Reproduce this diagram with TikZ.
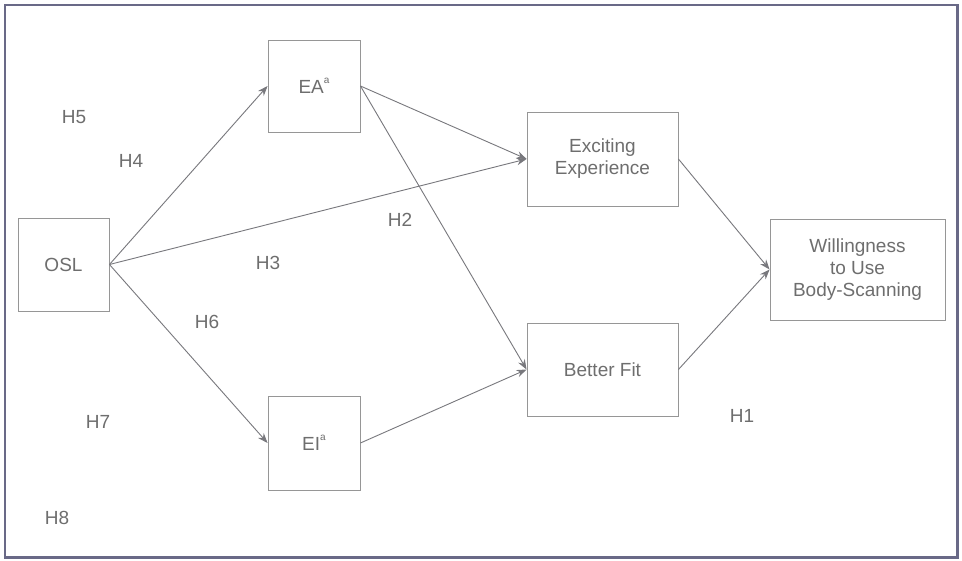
\documentclass[tikz,border=0pt]{standalone}
\usepackage{fontspec}
\setmainfont{Liberation Sans}
\definecolor{frmblue}{RGB}{105,105,135}
\definecolor{boxgray}{RGB}{150,150,150}
\definecolor{txtgray}{RGB}{110,110,110}
\definecolor{arrgray}{RGB}{120,120,125}
\usetikzlibrary{arrows.meta}
\newcommand{\supa}{\raisebox{0.55em}{\fontsize{10}{10}\selectfont a}}
\tikzset{
  fbox/.style={draw=boxgray,line width=0.9pt,text=txtgray,align=center,
    inner sep=0pt,font=\fontsize{19}{22}\selectfont},
  hyp/.style={text=txtgray,inner sep=0pt,font=\fontsize{19}{22}\selectfont},
  link/.style={draw=arrgray,line width=0.9pt,-{Stealth[length=10pt,width=7.5pt]}}
}

\begin{document}
\begin{tikzpicture}[x=1pt,y=-1pt]
  \useasboundingbox (0,0) rectangle (962,561);
  \fill[white] (0,0) rectangle (962,561);
  \draw[frmblue,line width=2.4pt] (5,5) rectangle (957.5,557.5);
  \node[fbox,minimum width=91pt,minimum height=93pt] (osl) at (63.5,264.5) {OSL};
  \node[fbox,minimum width=92pt,minimum height=92pt] (ea) at (314,86) {EA\supa};
  \node[fbox,minimum width=92pt,minimum height=94pt] (ei) at (314,443) {EI\supa};
  \node[fbox,minimum width=151pt,minimum height=94pt] (exc) at (602.5,159) {Exciting\\Experience};
  \node[fbox,minimum width=151pt,minimum height=93pt] (fit) at (602.5,369.5) {Better Fit};
  \node[fbox,minimum width=175pt,minimum height=101pt] (will) at (857.5,269.5) {Willingness\\to Use\\Body-Scanning};
  \draw[link] (osl.east) -- (ea.west);
  \draw[link] (osl.east) -- (exc.west);
  \draw[link] (osl.east) -- (ei.west);
  \draw[link] (ea.east) -- (exc.west);
  \draw[link] (ea.east) -- (fit.west);
  \draw[link] (ei.east) -- (fit.west);
  \draw[link] (exc.east) -- (will.west);
  \draw[link] (fit.east) -- (will.west);
  \node[hyp] (h5) at (74,117) {H5};
  \node[hyp] (h4) at (131,161) {H4};
  \node[hyp] (h2) at (400,220) {H2};
  \node[hyp] (h3) at (268,263) {H3};
  \node[hyp] (h6) at (207,322) {H6};
  \node[hyp] (h7) at (98,422) {H7};
  \node[hyp] (h1) at (742,416) {H1};
  \node[hyp] (h8) at (57,518) {H8};
\end{tikzpicture}
\end{document}
